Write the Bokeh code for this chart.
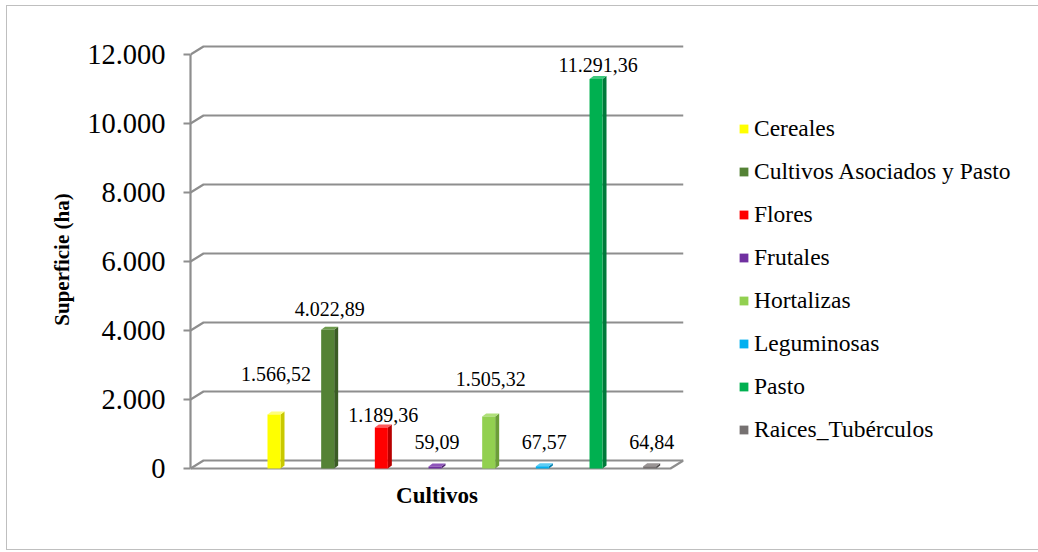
from bokeh.plotting import figure
from bokeh.models import Range1d, FixedTicker, CustomJSTickFormatter, Legend, LegendItem, ColumnDataSource
from bokeh.core.properties import value
from bokeh.embed import file_html
from bokeh.resources import INLINE

# ---------------- data ----------------
categories = ["Cereales", "Cultivos Asociados y Pasto", "Flores", "Frutales",
              "Hortalizas", "Leguminosas", "Pasto", "Raices_Tubérculos"]
superficie = [1566.52, 4022.89, 1189.36, 59.09, 1505.32, 67.57, 11291.36, 64.84]
y_ticks = [0, 2000, 4000, 6000, 8000, 10000, 12000]

# ---------------- styles ----------------
front_colors = ["#FFFF00", "#548235", "#FF0000", "#7030A0", "#92D050", "#00B0F0", "#00B050", "#767171"]
side_colors = ["#C9C900", "#3B5C25", "#B80000", "#4E2170", "#6B9E38", "#0080B0", "#007A3A", "#4F4B4B"]
top_colors = ["#FFFF7A", "#6E9B4E", "#FF5A5A", "#8E55BA", "#B0E07A", "#5CCCF5", "#3CC87C", "#999494"]
label_dy = [40, 21, 12, 24, 38, 24, 14, 24]   # px from bar top to label centre
FONT = "'Liberation Serif', 'Times New Roman', serif"
GRID = "#8E8E8E"

PX_X = 53.67              # px per category step
PX_Y = 414.0 / 12000.0    # px per hectare
FRAME_W, FRAME_H = 493, 442
X0_PX = 83.5              # px from frame left to first bar centre
Y0_PX = 12                # px from frame bottom to the zero line

x_start = -X0_PX / PX_X
x_end = (FRAME_W - X0_PX) / PX_X
y_start = -Y0_PX / PX_Y
y_end = (FRAME_H - Y0_PX) / PX_Y

DX = 13 / PX_X    # depth of walls
DY = 8 / PX_Y
BW = 13 / PX_X    # bar width
BDX = 4 / PX_X    # bar depth
BDY = 3 / PX_Y

p = figure(frame_width=FRAME_W, frame_height=FRAME_H,
           min_border_left=183, min_border_right=348, min_border_top=32, min_border_bottom=69,
           x_range=Range1d(x_start, x_end), y_range=Range1d(y_start, y_end),
           output_backend="svg", toolbar_location=None, tools="")
p.margin = (5, 0, 0, 6)
p.styles = {"border": "1px solid #BFBFBF"}
p.outline_line_color = None
p.grid.visible = False
p.background_fill_color = "white"
p.border_fill_color = "white"

# walls / gridlines
xs, ys = [], []
for t in y_ticks:
    xs.append([x_start, x_start + DX, x_end])
    ys.append([t, t + DY, t + DY])
p.multi_line(xs, ys, line_color=GRID, line_width=2.2)
# floor front edge
p.line([x_start, x_end - DX, x_end], [0, 0, DY], line_color=GRID, line_width=2.2)

# bars
xc = list(range(len(categories)))
items = []
for i, (c, v) in enumerate(zip(categories, superficie)):
    x = xc[i]
    l, r = x - BW / 2, x + BW / 2
    p.patch([r, r + BDX, r + BDX, r], [0, BDY, v + BDY, v],
            fill_color=side_colors[i], line_color=None)
    p.patch([l, l + BDX, r + BDX, r], [v, v + BDY, v + BDY, v],
            fill_color=top_colors[i], line_color=None)
    rr = p.vbar(x=[x], top=[v], bottom=0, width=BW, fill_color=front_colors[i], line_color=None)
    items.append(LegendItem(label=c, renderers=[rr]))

# data labels
labels = [f"{v:,.2f}".replace(",", "X").replace(".", ",").replace("X", ".") for v in superficie]
src = ColumnDataSource(dict(x=xc, y=superficie, t=labels, dy=[-d for d in label_dy]))
p.text(x="x", y="y", text="t", y_offset="dy", x_offset=2, source=src,
       text_font=value(FONT), text_font_size="20px", text_color="black",
       text_align="center", text_baseline="middle")

# y axis
ya = p.yaxis[0]
ya.ticker = FixedTicker(ticks=y_ticks)
ya.bounds = (0, 12000)
ya.formatter = CustomJSTickFormatter(code="""
const s = Math.round(tick).toString();
return s.replace(/\\B(?=(\\d{3})+(?!\\d))/g, ".");
""")
ya.axis_line_color = GRID
ya.axis_line_width = 2.2
ya.major_tick_line_color = GRID
ya.major_tick_line_width = 2
ya.major_tick_out = 7
ya.major_tick_in = 0
ya.minor_tick_line_color = None
ya.major_label_text_font = FONT
ya.major_label_text_font_size = "28.5px"
ya.major_label_text_color = "black"
ya.major_label_standoff = 18
ya.axis_label = "Superficie (ha)"
ya.axis_label_text_font = FONT
ya.axis_label_text_font_size = "21px"
ya.axis_label_text_font_style = "bold"
ya.axis_label_text_color = "black"
ya.axis_label_standoff = 10

# x axis (title only)
xa = p.xaxis[0]
xa.ticker = FixedTicker(ticks=[])
xa.axis_line_color = None
xa.major_tick_line_color = None
xa.minor_tick_line_color = None
xa.major_label_text_font_size = "0px"
xa.axis_label = "Cultivos"
xa.axis_label_text_font = FONT
xa.axis_label_text_font_size = "23px"
xa.axis_label_text_font_style = "bold"
xa.axis_label_text_color = "black"
xa.axis_label_standoff = 2

# legend
legend = Legend(items=items, location=(55, 37), orientation="vertical",
                glyph_width=11, glyph_height=11, label_standoff=5,
                label_height=26, spacing=16, padding=0, margin=0,
                border_line_color=None, background_fill_alpha=0,
                label_text_font=FONT, label_text_font_size="23.5px", label_text_color="black")
p.add_layout(legend, "right")

open("out.html", "w").write(file_html(p, INLINE))
